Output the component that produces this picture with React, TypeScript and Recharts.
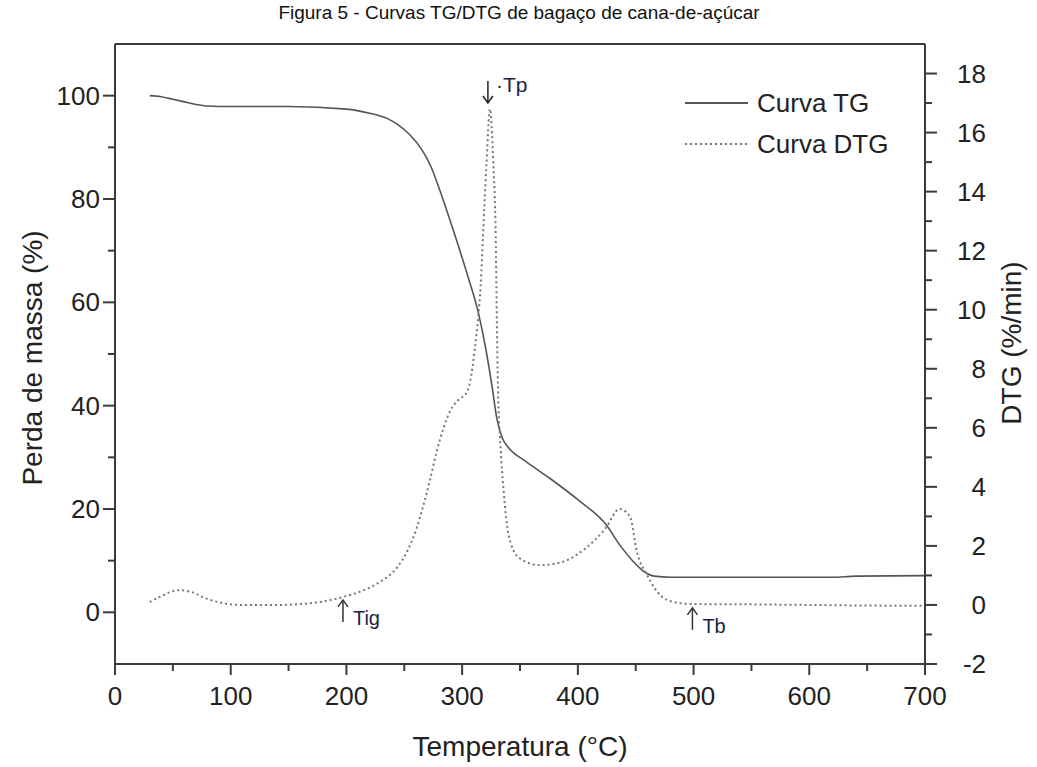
import { LineChart, Line, XAxis, YAxis, ReferenceLine, ReferenceDot } from "recharts";

// TG curve (mass, %)
const tgTemp = [30, 40, 50, 60, 70, 80, 100, 150, 200, 220, 235, 245, 255, 265, 273, 281, 293, 305, 314, 320, 326, 330, 335, 340, 355, 376, 400, 425, 436, 448, 457, 466, 480, 550, 620, 640, 700];
const tgMass = [100, 99.8, 99.3, 98.8, 98.3, 98.0, 97.9, 97.9, 97.4, 96.6, 95.6, 94.3, 92.4, 89.6, 86.3, 81.5, 73.5, 65, 58, 51.5, 43.5, 37.5, 33.6, 31.9, 29.2, 25.9, 21.8, 16.8, 13.1, 9.8, 7.9, 7.0, 6.8, 6.8, 6.8, 7.0, 7.1];

// DTG curve (%/min)
const dtgTemp = [30, 40, 55, 65, 80, 95, 110, 140, 160, 180, 197, 215, 229, 244, 253, 261, 266, 272, 278, 284, 290, 297, 304, 308, 311, 314, 316, 318, 321, 324, 327, 329, 330, 331, 333, 336, 340, 349, 367, 386, 406, 424, 436, 445, 451, 460, 472, 485, 500, 550, 600, 650, 700];
const dtgRate = [0.1, 0.3, 0.5, 0.45, 0.2, 0.05, 0, 0, 0.03, 0.12, 0.27, 0.5, 0.78, 1.28, 1.86, 2.64, 3.3, 4.2, 5.2, 6.0, 6.6, 6.95, 7.2, 7.8, 8.7, 9.8, 10.8, 12.5, 14.9, 16.8, 14.9, 12.5, 9.6, 7.3, 5.5, 3.8, 2.4, 1.6, 1.35, 1.45, 1.9, 2.6, 3.25, 3.0, 1.8, 1.0, 0.3, 0.08, 0.03, 0.02, 0, -0.02, -0.03];

const xTicks = [0, 50, 100, 150, 200, 250, 300, 350, 400, 450, 500, 550, 600, 650, 700];
const leftTicks = [0, 10, 20, 30, 40, 50, 60, 70, 80, 90, 100];
const rightTicks = [-2, -1, 0, 1, 2, 3, 4, 5, 6, 7, 8, 9, 10, 11, 12, 13, 14, 15, 16, 17, 18];

// annotation anchors: [temp, dtg]
const marks = [
  { label: "Tp", t: 324, v: 17.0, dir: "down" },
  { label: "Tig", t: 197, v: 0.17, dir: "up" },
  { label: "Tb", t: 499, v: -0.1, dir: "up" },
];

const tgData = tgTemp.map((t, i) => ({ t, tg: tgMass[i] }));
const dtgData = dtgTemp.map((t, i) => ({ t, dtg: dtgRate[i] }));

const FONT = "'Liberation Sans', Arial, sans-serif";
const AXIS = "#3a3a3a";
const TXT = "#222";
const TICK_FS = 26;

const XTick = (p: any) => {
  const { x, y, payload } = p;
  const major = payload.value % 100 === 0;
  return (
    <g>
      <line x1={x} x2={x} y1={y} y2={y + (major ? 11 : 7)} stroke={AXIS} strokeWidth={2} />
      {major && (
        <text x={x} y={y + 41} textAnchor="middle" fontSize={TICK_FS} fill={TXT} fontFamily={FONT}>
          {payload.value}
        </text>
      )}
    </g>
  );
};

const LeftTick = (p: any) => {
  const { x, y, payload } = p;
  const major = payload.value % 20 === 0;
  return (
    <g>
      <line x1={x - (major ? 12 : 7)} x2={x} y1={y} y2={y} stroke={AXIS} strokeWidth={2} />
      {major && (
        <text x={x - 15} y={y + 9} textAnchor="end" fontSize={TICK_FS} fill={TXT} fontFamily={FONT}>
          {payload.value}
        </text>
      )}
    </g>
  );
};

const RightTick = (p: any) => {
  const { x, y, payload } = p;
  const major = payload.value % 2 === 0;
  return (
    <g>
      <line x1={x} x2={x + (major ? 12 : 7)} y1={y} y2={y} stroke={AXIS} strokeWidth={2} />
      {major && (
        <text x={x + 61} y={y + 9} textAnchor="end" fontSize={TICK_FS} fill={TXT} fontFamily={FONT}>
          {payload.value}
        </text>
      )}
    </g>
  );
};

const markShape = (m: { label: string; dir: string }) => (p: any) => {
  const { cx, cy } = p;
  if (m.dir === "down") {
    return (
      <g>
        <line x1={cx - 2} x2={cx - 2} y1={cy - 22} y2={cy} stroke="#222" strokeWidth={1.5} />
        <path d={`M${cx - 7},${cy - 7} L${cx - 2},${cy} L${cx + 3},${cy - 7}`} fill="none" stroke="#222" strokeWidth={1.5} />
        <text x={cx + 6} y={cy - 11} fontSize={21} fill="#1c2444" fontFamily={FONT}>
          {"\u00b7" + m.label}
        </text>
      </g>
    );
  }
  return (
    <g>
      <line x1={cx} x2={cx} y1={cy} y2={cy + 22} stroke="#333" strokeWidth={1.5} />
      <path d={`M${cx - 5},${cy + 7} L${cx},${cy} L${cx + 5},${cy + 7}`} fill="none" stroke="#333" strokeWidth={1.5} />
      <text x={cx + 10} y={cy + 25} fontSize={20} fill="#1c2444" fontFamily={FONT}>
        {m.label}
      </text>
    </g>
  );
};

export default function App() {
  return (
    <div style={{ position: "absolute", left: 0, top: 0, width: 1037, height: 767, background: "#fff" }}>
      <LineChart width={1037} height={767} margin={{ top: 44, right: 52, bottom: 63, left: 55 }}>
        <XAxis
          dataKey="t"
          type="number"
          domain={[0, 700]}
          ticks={xTicks}
          interval={0}
          height={40}
          tickSize={0}
          tickMargin={0}
          tickLine={false}
          tick={XTick}
          axisLine={{ stroke: AXIS, strokeWidth: 2 }}
          allowDuplicatedCategory={false}
        />
        <YAxis
          yAxisId="left"
          domain={[-10, 110]}
          ticks={leftTicks}
          interval={0}
          width={60}
          tickSize={0}
          tickMargin={0}
          tickLine={false}
          tick={LeftTick}
          axisLine={{ stroke: AXIS, strokeWidth: 2 }}
          allowDataOverflow
        />
        <YAxis
          yAxisId="right"
          orientation="right"
          domain={[-2, 19]}
          ticks={rightTicks}
          interval={0}
          width={60}
          tickSize={0}
          tickMargin={0}
          tickLine={false}
          tick={RightTick}
          axisLine={{ stroke: AXIS, strokeWidth: 2 }}
          allowDataOverflow
        />
        <ReferenceLine yAxisId="left" y={110} stroke={AXIS} strokeWidth={2} ifOverflow="visible" />
        <Line
          yAxisId="left"
          data={tgData}
          dataKey="tg"
          type="monotone"
          stroke="#555"
          strokeWidth={1.6}
          dot={false}
          isAnimationActive={false}
        />
        <Line
          yAxisId="right"
          data={dtgData}
          dataKey="dtg"
          type="monotone"
          stroke="#777"
          strokeWidth={2}
          strokeDasharray="2 3"
          dot={false}
          isAnimationActive={false}
        />
        {marks.map((m) => (
          <ReferenceDot
            key={m.label}
            yAxisId="right"
            x={m.t}
            y={m.v}
            r={0}
            ifOverflow="visible"
            shape={markShape(m)}
          />
        ))}
        <text x={519} y={19} textAnchor="middle" fontSize={19} fill="#111" fontFamily={FONT}>
          Figura 5 - Curvas TG/DTG de bagaço de cana-de-açúcar
        </text>
        <text transform="translate(42,358) rotate(-90)" textAnchor="middle" fontSize={28} fill={TXT} fontFamily={FONT}>
          Perda de massa (%)
        </text>
        <text transform="translate(1021,343) rotate(-90)" textAnchor="middle" fontSize={28} fill={TXT} fontFamily={FONT}>
          DTG (%/min)
        </text>
        <text x={520} y={756} textAnchor="middle" fontSize={28} fill={TXT} fontFamily={FONT}>
          Temperatura (°C)
        </text>
        <g fontFamily={FONT} fontSize={26} fill={TXT}>
          <line x1={685} x2={748} y1={103} y2={103} stroke="#555" strokeWidth={2} />
          <text x={757} y={112}>Curva TG</text>
          <line x1={685} x2={748} y1={144} y2={144} stroke="#777" strokeWidth={2} strokeDasharray="2 3" />
          <text x={757} y={153}>Curva DTG</text>
        </g>
      </LineChart>
    </div>
  );
}
